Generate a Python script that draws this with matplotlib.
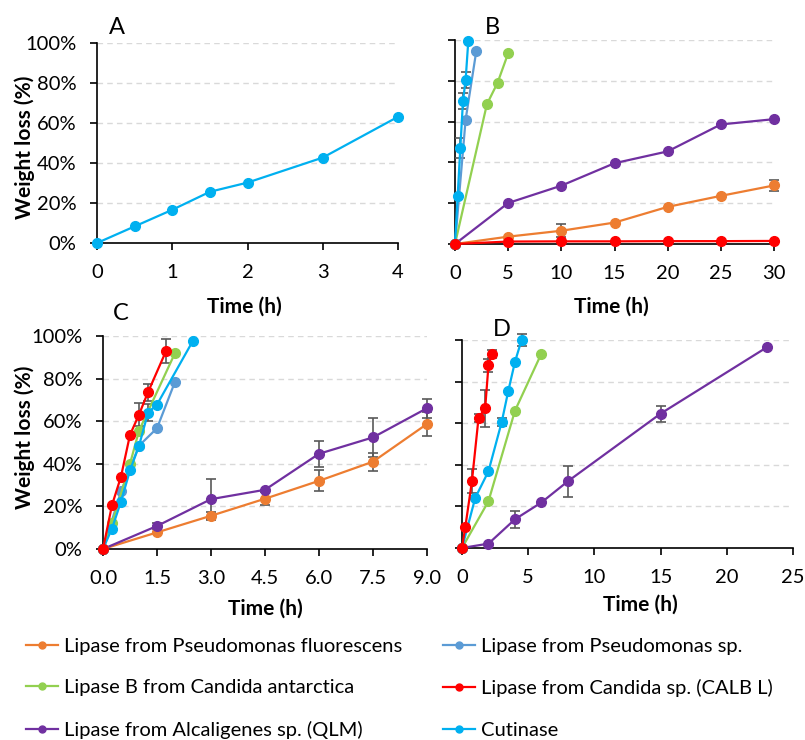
import numpy as np
import matplotlib.pyplot as plt
from matplotlib.lines import Line2D
from matplotlib.ticker import PercentFormatter

plt.rcParams["font.family"] = ["Lato", "DejaVu Sans"]

# series names and colours (Excel palette)
names = [
    "Lipase from Pseudomonas fluorescens",
    "Lipase B from Candida antarctica",
    "Lipase from Alcaligenes sp. (QLM)",
    "Lipase from Pseudomonas sp.",
    "Lipase from Candida sp. (CALB L)",
    "Cutinase",
]
c_pf, c_ca, c_al, c_ps, c_cl, c_cut = "#ED7D31", "#92D050", "#7030A0", "#5B9BD5", "#FF0000", "#00B0F0"

# ---- panel A : weight loss (%) vs time (h)
a_cut_t = [0, 0.5, 1, 1.5, 2, 3, 4]
a_cut_w = [0, 8.3, 16.6, 25.6, 30.2, 42.7, 63.1]

# ---- panel B
b_pf_t = [0, 5, 10, 15, 20, 25, 30]
b_pf_w = [0, 3.6, 6.5, 10.5, 18.2, 23.6, 28.7]
b_pf_e = [0, 0, 3.2, 0, 0, 0, 2.8]
b_al_t = [0, 5, 10, 15, 20, 25, 30]
b_al_w = [0, 20.1, 28.6, 39.6, 45.4, 58.6, 61.2]
b_cl_t = [0, 5, 10, 15, 20, 25, 30]
b_cl_w = [0, 1.2, 1.3, 1.3, 1.4, 1.4, 1.5]
b_ca_t = [0, 3, 4, 5]
b_ca_w = [0, 68.5, 79, 93.5]
b_ps_t = [0, 1, 2]
b_ps_w = [0, 61, 94.5]
b_cut_t = [0, 0.25, 0.5, 0.75, 1, 1.25]
b_cut_w = [0, 23.5, 47, 70, 80.5, 99.5]
b_cut_e = [0, 0, 5, 4, 4, 0]

# ---- panel C
c_pf_t = [0, 1.5, 3, 4.5, 6, 7.5, 9]
c_pf_w = [0, 7.8, 15.6, 23.6, 32.0, 41.0, 58.7]
c_pf_e = [0, 0, 2, 3, 5, 4.2, 5.5]
c_al_t = [0, 1.5, 3, 4.5, 6, 7.5, 9]
c_al_w = [0, 10.8, 23.4, 27.8, 44.7, 52.4, 66.1]
c_al_e = [0, 1.5, 9.5, 0, 6, 9.2, 4.5]
c_ps_t = [0, 0.5, 1, 1.5, 2]
c_ps_w = [0, 27, 48.5, 56.7, 78.5]
c_ca_t = [0, 0.25, 0.75, 1, 2]
c_ca_w = [0, 12, 40, 55.5, 92]
c_cut_t = [0, 0.25, 0.5, 0.75, 1, 1.25, 1.5, 2.5]
c_cut_w = [0, 9.6, 22.3, 36.9, 48.4, 64, 67.8, 97.8]
c_cut_e = [0, 0, 0, 0, 0, 4, 0, 0]
c_cl_t = [0, 0.25, 0.5, 0.75, 1, 1.25, 1.75]
c_cl_w = [0, 20.6, 34, 53.6, 63.1, 73.6, 92.9]
c_cl_e = [0, 0, 0, 0, 5.5, 4, 5.8]

# ---- panel D
d_al_t = [0, 2, 4, 6, 8, 15, 23]
d_al_w = [0, 2.1, 13.8, 21.9, 32.1, 64.6, 96.4]
d_al_e = [0, 0, 4, 0, 7.5, 3.8, 0]
d_ca_t = [0, 2, 4, 6]
d_ca_w = [0, 22.5, 66, 93.5]
d_cut_t = [0, 1, 2, 3, 3.5, 4, 4.5]
d_cut_w = [0, 24.1, 36.9, 60.6, 75.6, 89.5, 100]
d_cut_e = [0, 0, 0, 2, 0, 0, 3]
d_cl_t = [0, 0.25, 0.75, 1.25, 1.75, 2, 2.25]
d_cl_w = [0, 10.1, 32.1, 62.6, 67.2, 87.9, 93.3]
d_cl_e = [0, 0, 5.8, 2, 8.8, 3.2, 2]

W, H = 805, 740
FS = 14.5


def box(l, t, r, b):
    return [l / W, 1 - b / H, (r - l) / W, (b - t) / H]


def series(ax, t, w, color, err=None):
    t = np.array(t, dtype=float)
    w = np.array(w, dtype=float) / 100
    if err is not None:
        e = np.array(err, dtype=float) / 100
        m = e > 0
        ax.errorbar(t[m], w[m], yerr=e[m], fmt="none", ecolor="#595959",
                    elinewidth=1.2, capsize=3.5, capthick=1.2, clip_on=False, zorder=3)
    ax.plot(t, w, color=color, marker="o", ms=7, lw=1.6, clip_on=False, zorder=4)


def style(ax, xmax, xticks, ylabels=True, xfmt=None):
    ax.set_xlim(0, xmax)
    ax.set_ylim(0, 1)
    ax.set_xticks(xticks)
    if xfmt:
        ax.set_xticklabels([xfmt.format(v) for v in xticks])
    ax.set_yticks(np.arange(0, 1.01, 0.2))
    ax.yaxis.set_major_formatter(PercentFormatter(1.0, decimals=0))
    ax.yaxis.grid(True, linestyle=(0, (4, 3)), color="#D9D9D9", lw=1)
    ax.set_axisbelow(True)
    for s in ["top", "right"]:
        ax.spines[s].set_visible(False)
    for s in ["left", "bottom"]:
        ax.spines[s].set_linewidth(1.2)
    ax.tick_params(direction="out", length=5, width=1.2, labelsize=FS,
                   labelleft=ylabels)
    ax.tick_params(axis="y", pad=10)
    ax.tick_params(axis="x", pad=10)


fig = plt.figure(figsize=(W / 100, H / 100), dpi=100)

axA = fig.add_axes(box(97, 43, 398, 243))
axB = fig.add_axes(box(455, 40, 774, 244))
axC = fig.add_axes(box(103, 336, 427, 549))
axD = fig.add_axes(box(462, 340, 793, 548))

series(axA, a_cut_t, a_cut_w, c_cut)
style(axA, 4, [0, 1, 2, 3, 4])

series(axB, b_pf_t, b_pf_w, c_pf, b_pf_e)
series(axB, b_al_t, b_al_w, c_al)
series(axB, b_ps_t, b_ps_w, c_ps)
series(axB, b_ca_t, b_ca_w, c_ca)
series(axB, b_cut_t, b_cut_w, c_cut, b_cut_e)
series(axB, b_cl_t, b_cl_w, c_cl)
style(axB, 30, [0, 5, 10, 15, 20, 25, 30], ylabels=False)

series(axC, c_pf_t, c_pf_w, c_pf, c_pf_e)
series(axC, c_al_t, c_al_w, c_al, c_al_e)
series(axC, c_ps_t, c_ps_w, c_ps)
series(axC, c_ca_t, c_ca_w, c_ca)
series(axC, c_cut_t, c_cut_w, c_cut, c_cut_e)
series(axC, c_cl_t, c_cl_w, c_cl, c_cl_e)
style(axC, 9, [0, 1.5, 3, 4.5, 6, 7.5, 9], xfmt="{:.1f}")

series(axD, d_al_t, d_al_w, c_al, d_al_e)
series(axD, d_ca_t, d_ca_w, c_ca)
series(axD, d_cut_t, d_cut_w, c_cut, d_cut_e)
series(axD, d_cl_t, d_cl_w, c_cl, d_cl_e)
style(axD, 25, [0, 5, 10, 15, 20, 25], ylabels=False)

# panel letters
for txt, x, y in [("A", 117, 27), ("B", 492, 27), ("C", 121, 313), ("D", 502, 329)]:
    fig.text(x / W, 1 - y / H, txt, fontsize=17, ha="center", va="center")

# axis titles
for x, y in [(244, 307), (611, 307), (265, 609), (640, 605)]:
    fig.text(x / W, 1 - y / H, "Time (h)", fontsize=15, fontweight="bold",
             ha="center", va="center")
for y in [147, 437]:
    fig.text(25 / W, 1 - y / H, "Weight loss (%)", fontsize=15, fontweight="bold",
             rotation=90, ha="center", va="center")

# legend in two columns
colors = [c_pf, c_ca, c_al, c_ps, c_cl, c_cut]
handles = [Line2D([], [], color=c, marker="o", ms=5, lw=1.6) for c in colors]
for i, x in [(0, 26), (3, 443)]:
    fig.legend(handles[i:i + 3], names[i:i + 3], loc="upper left",
               bbox_to_anchor=(x / W, 1 - 638 / H), frameon=False, fontsize=FS,
               borderpad=0, borderaxespad=0, handlelength=1.6, handletextpad=0.3,
               labelspacing=1.2)

fig.savefig("out.png", dpi=100)
